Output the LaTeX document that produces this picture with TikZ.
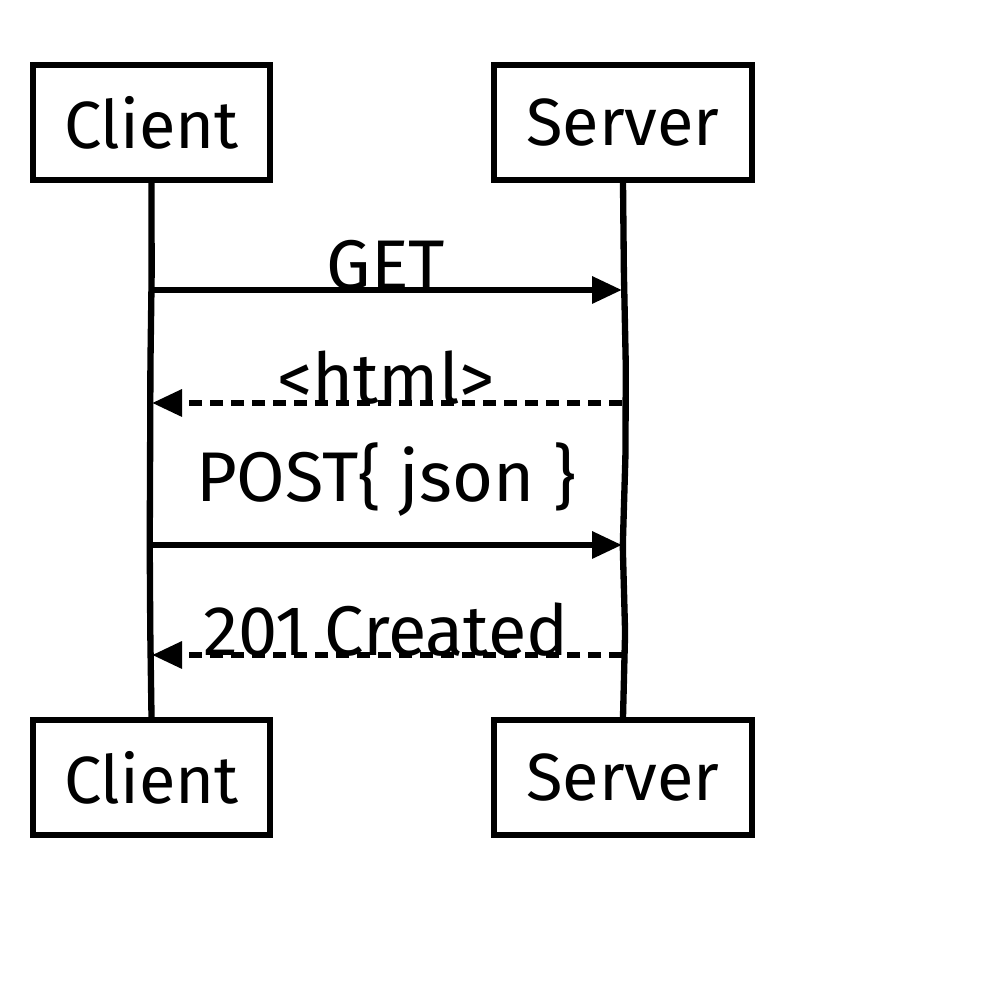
\documentclass[tikz,border=0pt]{standalone}
\usepackage{fontspec}
\setmainfont{Fira Sans}
\usetikzlibrary{arrows.meta,decorations.pathmorphing}

\tikzset{
  rough/.style={decorate,decoration={random steps,segment length=9mm,amplitude=.35mm},rounded corners=.6mm},
  actor/.style={draw,line width=1.8pt,minimum height=11.5mm,font=\fontsize{19}{22}\selectfont},
  life/.style={line width=1.8pt,rough},
  call/.style={line width=1.8pt,-{Triangle[length=3mm,width=2.6mm]}},
  reply/.style={call,dash pattern=on 1.3mm off .8mm},
  msg/.style={font=\fontsize{20}{23}\selectfont}
}

\begin{document}
\begin{tikzpicture}
  \pgfmathsetseed{11}
  \useasboundingbox (0,0) rectangle (10,10);
  % actors
  \node[actor,minimum width=23.7mm] (ctop) at (1.515,8.775) {Client};
  \node[actor,minimum width=25.8mm] (stop) at (6.23,8.775) {Server};
  \node[actor,minimum width=23.7mm] (cbot) at (1.515,2.225) {Client};
  \node[actor,minimum width=25.8mm] (sbot) at (6.23,2.225) {Server};
  % lifelines
  \draw[life] (ctop.south) -- (cbot.north);
  \draw[life] (stop.south) -- (sbot.north);
  % message ends
  \coordinate (get1) at (1.52,7.1);   \coordinate (get2) at (6.22,7.1);
  \coordinate (html1) at (6.22,5.97); \coordinate (html2) at (1.52,5.97);
  \coordinate (post1) at (1.52,4.55); \coordinate (post2) at (6.22,4.55);
  \coordinate (made1) at (6.22,3.45); \coordinate (made2) at (1.52,3.45);
  % messages
  \draw[call] (get1) -- (get2);
  \node[msg] (getl) at (3.86,7.35) {GET};
  \draw[reply] (html1) -- (html2);
  \node[msg] (htmll) at (3.86,6.22) {<html>};
  \draw[call] (post1) -- (post2);
  \node[msg] (postl) at (3.86,5.2) {POST\{ json \}};
  \draw[reply] (made1) -- (made2);
  \node[msg] (madel) at (3.86,3.7) {201 Created};
\end{tikzpicture}
\end{document}
